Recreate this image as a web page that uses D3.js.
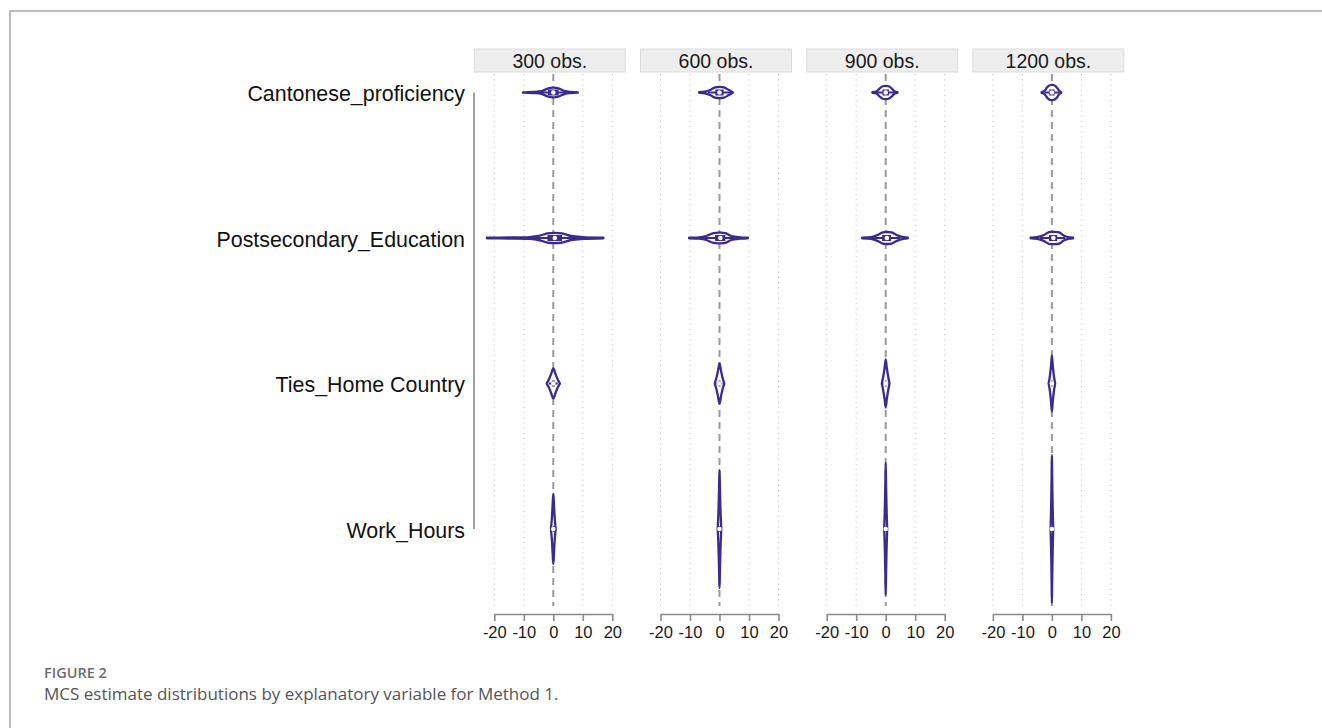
<!DOCTYPE html>
<html>
<head>
<meta charset="utf-8">
<script src="https://cdn.jsdelivr.net/npm/d3@7"></script>
<style>
  html, body { margin: 0; padding: 0; background: #fff; }
  svg { display: block; }
</style>
</head>
<body>
<svg id="chart" width="1322" height="728"></svg>
<script>
// Explanatory variables (rows) and simulated sample sizes (panels)
const variables = ["Cantonese_proficiency", "Postsecondary_Education", "Ties_Home Country", "Work_Hours"];
const sampleSizes = ["300 obs.", "600 obs.", "900 obs.", "1200 obs."];
const xTicks = [-20, -10, 0, 10, 20];

// Density outlines per variable, one curve per sample size: [estimate, relative density]
const cantoneseCurves = [
  [[-10.3, 0.2], [-7, 0.6], [-4, 1.3], [-2, 3.8], [0, 4.8], [2, 3.8], [4, 1.3], [6, 0.6], [8.3, 0.2]],
  [[-6.9, 0.3], [-5, 0.8], [-3, 2.8], [-1.5, 5.2], [0, 5.7], [1.5, 5.2], [3, 2.8], [4.5, 0.3]],
  [[-4.5, 0.3], [-3, 1.2], [-2, 4.2], [-1, 6.2], [0, 6.6], [1, 6.2], [2, 4.2], [3, 1.2], [4, 0.3]],
  [[-3.5, 0.3], [-2.5, 1.6], [-1.5, 5.6], [-0.5, 7.5], [0.5, 7.5], [1.5, 5.6], [2.5, 1.6], [3.2, 0.3]]
];
const postsecondaryCurves = [
  [[-22.5, 0.3], [-15, 0.5], [-8, 0.9], [-5, 2], [-2, 4.6], [0.5, 5.1], [3, 4.6], [6, 2], [10, 0.9], [17, 0.3]],
  [[-10.3, 0.3], [-7, 0.7], [-4.5, 2], [-2, 4.9], [0, 5.3], [2, 4.9], [4, 2], [7, 0.7], [9.6, 0.3]],
  [[-8, 0.3], [-5, 0.9], [-3, 2.6], [-1, 5.6], [0.5, 6], [2, 5.6], [4, 2.6], [6, 0.9], [7.5, 0.3]],
  [[-7.2, 0.3], [-5, 0.9], [-3, 2.6], [-1, 5.8], [0.8, 6.2], [2.5, 5.6], [4, 2.6], [5.5, 0.9], [7.2, 0.3]]
];
const tiesCurves = [
  [[-2.2, 0.3], [-1.5, 4], [-0.8, 9], [0, 15], [0.8, 9], [1.5, 4], [2.2, 0.3]],
  [[-1.6, 0.3], [-1.1, 5], [-0.5, 13], [0, 20], [0.5, 13], [1.1, 5], [1.6, 0.3]],
  [[-1.3, 0.3], [-0.9, 6], [-0.4, 15], [0, 24], [0.4, 15], [0.9, 6], [1.3, 0.3]],
  [[-1.1, 0.3], [-0.7, 7], [-0.3, 18], [0, 28], [0.3, 18], [0.7, 7], [1.1, 0.3]]
];
const workCurves = [
  [[-0.8, 0.3], [-0.5, 10], [-0.22, 25], [0, 35], [0.22, 25], [0.5, 10], [0.8, 0.3]],
  [[-0.6, 0.5], [-0.35, 18], [-0.14, 42], [0, 59], [0.14, 42], [0.35, 18], [0.6, 0.5]],
  [[-0.5, 0.5], [-0.3, 20], [-0.12, 46], [0, 66], [0.12, 46], [0.3, 20], [0.5, 0.5]],
  [[-0.45, 0.5], [-0.26, 22], [-0.1, 52], [0, 74], [0.1, 52], [0.26, 22], [0.45, 0.5]]
];

// Box summaries per variable and sample size: [q1, median, q3, lower adjacent, upper adjacent]
const cantoneseBoxes = [[-1.8, 0, 1.8, -5, 5], [-1.4, 0, 1.4, -4, 4], [-1.1, 0, 1.1, -3, 3], [-0.9, 0, 0.9, -2.5, 2.5]];
const postsecondaryBoxes = [[-2, 0.5, 3, -9, 10], [-1.5, 0.3, 2, -6, 6], [-1.2, 0.4, 1.8, -5, 5], [-1, 0.5, 1.8, -4, 4.5]];
const tiesBoxes = [[-0.5, 0, 0.5, -1.5, 1.5], [-0.35, 0, 0.35, -1, 1], [-0.3, 0, 0.3, -0.9, 0.9], [-0.25, 0, 0.25, -0.7, 0.7]];
const workBoxes = [[-0.15, 0, 0.15, -0.4, 0.4], [-0.1, 0, 0.1, -0.3, 0.3], [-0.08, 0, 0.08, -0.25, 0.25], [-0.07, 0, 0.07, -0.2, 0.2]];

const curvesByVar = [cantoneseCurves, postsecondaryCurves, tiesCurves, workCurves];
const boxesByVar = [cantoneseBoxes, postsecondaryBoxes, tiesBoxes, workBoxes];

const violet = "#3a2b90";
const svg = d3.select("#chart");

// Outer frame of the figure
svg.append("path")
  .attr("d", "M10,740 L10,11 L1330,11")
  .attr("fill", "none").attr("stroke", "#a6a6a6").attr("stroke-width", 1.5);

// Layout
const panelZero0 = 553.3, panelStep = 166.2;
const rowTop = 92.5, rowStep = 145.5;
const gridTop = 74, gridBottom = 606, axisY = 614;

const panelScale = d3.scaleBand().domain(sampleSizes).range([panelZero0 - panelStep / 2, panelZero0 + panelStep * 3.5]);
const yRow = d3.scalePoint().domain(variables).range([rowTop, rowTop + rowStep * 3]);
const dens = d3.scaleLinear().domain([0, 10]).range([0, 10]);

// Row labels and left axis line
svg.append("line")
  .attr("x1", 474).attr("x2", 474)
  .attr("y1", yRow(variables[0])).attr("y2", yRow(variables[3]))
  .attr("stroke", "#8a8a8a").attr("stroke-width", 1.6);

svg.append("g").selectAll("text").data(variables).join("text")
  .attr("x", 465).attr("y", d => yRow(d) + 1)
  .attr("dy", "0.36em")
  .attr("text-anchor", "end")
  .attr("font-family", "'Liberation Sans', Arial, sans-serif")
  .attr("font-size", 21.4).attr("fill", "#111")
  .text(d => d);

sampleSizes.forEach((label, p) => {
  const zero = panelScale(label) + panelScale.bandwidth() / 2;
  const x = d3.scaleLinear().domain([-20, 20]).range([zero - 59, zero + 59]);
  const g = svg.append("g");

  // Panel header strip
  g.append("rect")
    .attr("x", zero - 79).attr("y", 49).attr("width", 151).attr("height", 23)
    .attr("fill", "#eeeeee").attr("stroke", "#dcdcdc").attr("stroke-width", 1);
  g.append("text")
    .attr("x", zero - 3.5).attr("y", 60.5).attr("dy", "0.36em")
    .attr("text-anchor", "middle")
    .attr("font-family", "'Liberation Sans', Arial, sans-serif")
    .attr("font-size", 19.5).attr("fill", "#1a1a1a")
    .text(label);

  // Vertical grid lines
  g.selectAll("line.grid").data(xTicks.filter(t => t !== 0)).join("line")
    .attr("class", "grid")
    .attr("x1", d => x(d)).attr("x2", d => x(d))
    .attr("y1", gridTop).attr("y2", gridBottom)
    .attr("stroke", "#c4c4c4").attr("stroke-width", 1)
    .attr("stroke-dasharray", "1.2,4");
  g.append("line")
    .attr("x1", x(0)).attr("x2", x(0))
    .attr("y1", gridTop).attr("y2", gridBottom)
    .attr("stroke", "#9a9a9a").attr("stroke-width", 2)
    .attr("stroke-dasharray", "7,5");

  // Bottom axis
  const axis = g.append("g")
    .attr("transform", `translate(0,${axisY})`)
    .call(d3.axisBottom(x).tickValues(xTicks).tickFormat(d => String(d))
      .tickSize(7).tickSizeOuter(0).tickPadding(5));
  axis.select(".domain").attr("stroke", "#8a8a8a").attr("stroke-width", 1.6);
  axis.selectAll(".tick line").attr("stroke", "#8a8a8a").attr("stroke-width", 1.6);
  axis.selectAll(".tick text")
    .attr("font-family", "'Liberation Sans', Arial, sans-serif")
    .attr("font-size", 16.5).attr("fill", "#1a1a1a");

  // Violins
  variables.forEach((v, r) => {
    const cy = yRow(v);
    const curve = curvesByVar[r][p];
    const [q1, med, q3, lo, hi] = boxesByVar[r][p];
    const area = d3.area()
      .x(d => x(d[0]))
      .y0(d => cy - dens(d[1]))
      .y1(d => cy + dens(d[1]))
      .curve(d3.curveCatmullRom.alpha(0.5));
    g.append("path")
      .datum(curve)
      .attr("d", area)
      .attr("fill", "#ffffff")
      .attr("stroke", violet).attr("stroke-width", 2.3)
      .attr("stroke-linejoin", "round");
    g.append("line")
      .attr("x1", x(lo)).attr("x2", x(hi))
      .attr("y1", cy).attr("y2", cy)
      .attr("stroke", violet).attr("stroke-width", 2);
    g.append("rect")
      .attr("x", x(q1)).attr("y", cy - 3)
      .attr("width", Math.max(x(q3) - x(q1), 1.5)).attr("height", 6)
      .attr("fill", violet);
    g.append("circle")
      .attr("cx", x(med)).attr("cy", cy).attr("r", 2.3)
      .attr("fill", "#ffffff");
  });
});

// Caption
svg.append("text")
  .attr("x", 44).attr("y", 678)
  .attr("font-family", "'Open Sans', sans-serif")
  .attr("font-size", 14.5).attr("font-weight", 600).attr("fill", "#6e6e6e")
  .text("FIGURE 2");
svg.append("text")
  .attr("x", 44).attr("y", 700)
  .attr("font-family", "'Open Sans', sans-serif")
  .attr("font-size", 17).attr("fill", "#555")
  .text("MCS estimate distributions by explanatory variable for Method 1.");
</script>
</body>
</html>
